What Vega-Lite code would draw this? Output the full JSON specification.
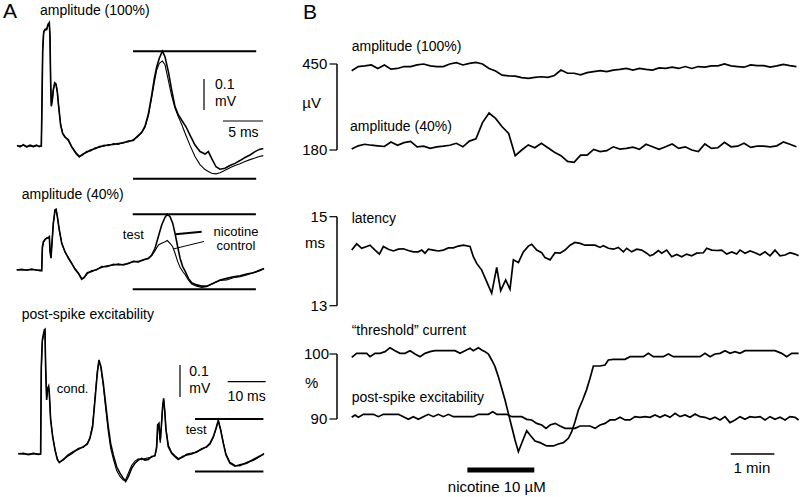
{
"$schema":"https://vega.github.io/schema/vega-lite/v6.json",
"width":800,"height":497,"autosize":"none","padding":0,"background":"white",
"config":{"view":{"stroke":null},"text":{"font":"Liberation Sans","fontSize":14,"color":"black"},"line":{"color":"black"},"rule":{"color":"black"}},
"datasets":{
"a1":[{"t":0,"n":2,"c":0},{"t":0.375,"n":-3,"c":1},{"t":0.79,"n":4,"c":2},{"t":1.21,"n":-2,"c":-4},{"t":1.625,"n":3,"c":0},{"t":2.04,"n":-1,"c":-3},{"t":2.46,"n":3,"c":1},{"t":2.79,"n":-2,"c":0},{"t":3.04,"n":0,"c":0},{"t":3.125,"n":140,"c":150},{"t":3.21,"n":305,"c":312},{"t":3.33,"n":365,"c":370},{"t":3.5,"n":376,"c":374},{"t":3.71,"n":378,"c":374},{"t":3.875,"n":392,"c":388},{"t":4.04,"n":398,"c":396},{"t":4.125,"n":350,"c":355},{"t":4.21,"n":200,"c":205},{"t":4.29,"n":128,"c":132},{"t":4.42,"n":150,"c":148},{"t":4.54,"n":182,"c":180},{"t":4.71,"n":204,"c":200},{"t":4.875,"n":200,"c":198},{"t":5.04,"n":174,"c":176},{"t":5.21,"n":126,"c":128},{"t":5.46,"n":66,"c":70},{"t":5.71,"n":40,"c":42},{"t":6.0,"n":28,"c":31},{"t":6.42,"n":20,"c":17},{"t":6.83,"n":-3,"c":-1},{"t":7.375,"n":-24,"c":-21},{"t":7.79,"n":-35,"c":-33},{"t":8.21,"n":-26,"c":-29},{"t":8.71,"n":-20,"c":-17},{"t":9.21,"n":-13,"c":-16},{"t":9.75,"n":-9,"c":-6},{"t":10.29,"n":-2,"c":-5},{"t":10.875,"n":0,"c":3},{"t":11.42,"n":4,"c":1},{"t":12.04,"n":5,"c":8},{"t":12.67,"n":8,"c":5},{"t":13.29,"n":10,"c":12},{"t":13.92,"n":16,"c":13},{"t":14.54,"n":18,"c":21},{"t":15.04,"n":31,"c":29},{"t":15.58,"n":44,"c":42},{"t":16.0,"n":64,"c":60},{"t":16.42,"n":103,"c":97},{"t":16.83,"n":163,"c":154},{"t":17.17,"n":218,"c":206},{"t":17.46,"n":255,"c":245},{"t":17.79,"n":283,"c":267},{"t":18.17,"n":306,"c":274},{"t":18.5,"n":288,"c":262},{"t":18.92,"n":240,"c":212},{"t":19.33,"n":181,"c":162},{"t":19.75,"n":127,"c":122},{"t":20.17,"n":100,"c":94},{"t":20.58,"n":84,"c":70},{"t":21.125,"n":62,"c":34},{"t":21.625,"n":35,"c":2},{"t":22.25,"n":3,"c":-34},{"t":22.875,"n":-18,"c":-60},{"t":23.5,"n":-26,"c":-76},{"t":23.92,"n":-18,"c":-82},{"t":24.33,"n":-40,"c":-88},{"t":24.875,"n":-67,"c":-90},{"t":25.375,"n":-75,"c":-86},{"t":26.0,"n":-72,"c":-78},{"t":26.625,"n":-63,"c":-70},{"t":27.25,"n":-56,"c":-63},{"t":27.875,"n":-47,"c":-57},{"t":28.5,"n":-37,"c":-50},{"t":29.125,"n":-29,"c":-44},{"t":29.75,"n":-18,"c":-39},{"t":30.29,"n":-11,"c":-34},{"t":30.79,"n":-8,"c":-31}],
"a2":[{"t":0,"n":0,"c":1},{"t":0.625,"n":2,"c":0},{"t":1.25,"n":-1,"c":1},{"t":1.875,"n":2,"c":3},{"t":2.5,"n":0,"c":-1},{"t":2.92,"n":-2,"c":0},{"t":3.125,"n":-2,"c":-2},{"t":3.21,"n":75,"c":70},{"t":3.33,"n":91,"c":88},{"t":3.54,"n":99,"c":97},{"t":3.75,"n":102,"c":104},{"t":3.96,"n":105,"c":103},{"t":4.08,"n":108,"c":106},{"t":4.17,"n":59,"c":62},{"t":4.29,"n":38,"c":40},{"t":4.375,"n":75,"c":72},{"t":4.58,"n":151,"c":150},{"t":4.79,"n":194,"c":192},{"t":4.92,"n":196,"c":195},{"t":5.08,"n":172,"c":174},{"t":5.33,"n":129,"c":127},{"t":5.625,"n":86,"c":89},{"t":6.04,"n":59,"c":57},{"t":6.46,"n":38,"c":41},{"t":6.875,"n":22,"c":20},{"t":7.29,"n":2,"c":5},{"t":7.71,"n":-11,"c":-9},{"t":8.125,"n":-30,"c":-27},{"t":8.42,"n":-24,"c":-26},{"t":8.83,"n":-9,"c":-12},{"t":9.375,"n":-5,"c":-2},{"t":10.0,"n":2,"c":0},{"t":10.625,"n":9,"c":12},{"t":11.25,"n":13,"c":10},{"t":12.08,"n":16,"c":19},{"t":12.71,"n":19,"c":16},{"t":13.33,"n":16,"c":18},{"t":13.96,"n":22,"c":20},{"t":14.58,"n":27,"c":29},{"t":15.21,"n":27,"c":25},{"t":15.83,"n":32,"c":34},{"t":16.46,"n":38,"c":36},{"t":16.875,"n":48,"c":46},{"t":17.29,"n":70,"c":62},{"t":17.71,"n":108,"c":81},{"t":18.125,"n":145,"c":86},{"t":18.54,"n":170,"c":91},{"t":18.83,"n":180,"c":95},{"t":19.17,"n":172,"c":86},{"t":19.5,"n":151,"c":75},{"t":19.79,"n":118,"c":54},{"t":20.125,"n":75,"c":27},{"t":20.42,"n":38,"c":9},{"t":20.75,"n":11,"c":-5},{"t":21.08,"n":-5,"c":-16},{"t":21.46,"n":-27,"c":-32},{"t":21.875,"n":-41,"c":-45},{"t":22.5,"n":-48,"c":-52},{"t":23.125,"n":-52,"c":-56},{"t":23.75,"n":-52,"c":-54},{"t":24.58,"n":-43,"c":-43},{"t":25.42,"n":-32,"c":-34},{"t":26.25,"n":-27,"c":-32},{"t":27.08,"n":-22,"c":-25},{"t":27.92,"n":-19,"c":-22},{"t":28.75,"n":-13,"c":-16},{"t":29.58,"n":-9,"c":-9},{"t":30.42,"n":0,"c":-2},{"t":30.92,"n":5,"c":4}],
"a3":[{"t":0,"n":0,"c":2},{"t":1.32,"n":2,"c":0},{"t":2.63,"n":-2,"c":-1},{"t":3.95,"n":1,"c":3},{"t":5.26,"n":-1,"c":0},{"t":5.88,"n":0,"c":0},{"t":6.05,"n":273,"c":260},{"t":6.32,"n":356,"c":350},{"t":6.58,"n":372,"c":368},{"t":6.84,"n":388,"c":380},{"t":7.02,"n":390,"c":384},{"t":7.19,"n":273,"c":280},{"t":7.46,"n":169,"c":175},{"t":7.72,"n":205,"c":200},{"t":7.98,"n":212,"c":210},{"t":8.16,"n":190,"c":193},{"t":8.51,"n":106,"c":110},{"t":9.04,"n":54,"c":57},{"t":9.65,"n":13,"c":15},{"t":10.26,"n":-17,"c":-14},{"t":10.79,"n":-27,"c":-25},{"t":11.84,"n":-17,"c":-19},{"t":13.16,"n":-3,"c":-6},{"t":14.47,"n":7,"c":4},{"t":15.79,"n":15,"c":18},{"t":17.1,"n":23,"c":20},{"t":18.16,"n":31,"c":34},{"t":18.86,"n":49,"c":52},{"t":19.56,"n":85,"c":92},{"t":20.18,"n":169,"c":175},{"t":20.79,"n":252,"c":258},{"t":21.23,"n":294,"c":290},{"t":21.75,"n":273,"c":268},{"t":22.37,"n":221,"c":212},{"t":23.07,"n":148,"c":135},{"t":23.68,"n":85,"c":70},{"t":24.3,"n":33,"c":18},{"t":25.0,"n":-3,"c":-15},{"t":25.88,"n":-40,"c":-52},{"t":26.75,"n":-60,"c":-70},{"t":27.63,"n":-76,"c":-82},{"t":28.25,"n":-86,"c":-80},{"t":28.95,"n":-71,"c":-60},{"t":29.82,"n":-45,"c":-36},{"t":30.7,"n":-29,"c":-22},{"t":31.58,"n":-19,"c":-15},{"t":32.46,"n":-14,"c":-18},{"t":33.33,"n":-19,"c":-14},{"t":34.21,"n":-17,"c":-12},{"t":35.09,"n":-8,"c":-10},{"t":35.96,"n":-6,"c":-4},{"t":36.4,"n":23,"c":15},{"t":36.67,"n":91,"c":78},{"t":37.02,"n":96,"c":85},{"t":37.19,"n":65,"c":50},{"t":37.37,"n":44,"c":35},{"t":37.63,"n":85,"c":80},{"t":37.98,"n":148,"c":145},{"t":38.25,"n":174,"c":170},{"t":38.51,"n":138,"c":140},{"t":38.86,"n":75,"c":80},{"t":39.47,"n":23,"c":28},{"t":40.35,"n":2,"c":5},{"t":41.23,"n":-8,"c":-5},{"t":42.1,"n":-17,"c":-14},{"t":43.25,"n":-8,"c":-11},{"t":44.3,"n":-3,"c":0},{"t":45.61,"n":0,"c":3},{"t":46.93,"n":7,"c":5},{"t":48.25,"n":15,"c":17},{"t":49.56,"n":23,"c":21},{"t":50.44,"n":33,"c":31},{"t":51.32,"n":54,"c":52},{"t":52.02,"n":80,"c":78},{"t":52.63,"n":105,"c":103},{"t":53.25,"n":75,"c":77},{"t":53.95,"n":33,"c":36},{"t":54.65,"n":-3,"c":0},{"t":55.7,"n":-29,"c":-26},{"t":57.02,"n":-38,"c":-35},{"t":58.33,"n":-34,"c":-37},{"t":60.09,"n":-29,"c":-26},{"t":61.84,"n":-17,"c":-20},{"t":63.6,"n":-6,"c":-8},{"t":64.65,"n":0,"c":2}],
"bamp":[{"t":0,"a":429,"b":183},{"t":0.15,"a":442,"b":193},{"t":0.3,"a":444,"b":198},{"t":0.45,"a":447,"b":195},{"t":0.6,"a":436,"b":193},{"t":0.75,"a":447,"b":191},{"t":0.9,"a":434,"b":205},{"t":1.05,"a":436,"b":195},{"t":1.2,"a":442,"b":203},{"t":1.35,"a":442,"b":207},{"t":1.5,"a":447,"b":190},{"t":1.65,"a":450,"b":192},{"t":1.8,"a":444,"b":185},{"t":1.95,"a":442,"b":190},{"t":2.1,"a":442,"b":192},{"t":2.25,"a":450,"b":195},{"t":2.4,"a":454,"b":201},{"t":2.55,"a":447,"b":190},{"t":2.7,"a":452,"b":208},{"t":2.85,"a":455,"b":215},{"t":3.0,"a":450,"b":266},{"t":3.15,"a":436,"b":296},{"t":3.3,"a":428,"b":279},{"t":3.45,"a":415,"b":253},{"t":3.6,"a":413,"b":232},{"t":3.75,"a":412,"b":162},{"t":3.9,"a":407,"b":180},{"t":4.05,"a":405,"b":196},{"t":4.2,"a":408,"b":187},{"t":4.35,"a":410,"b":201},{"t":4.5,"a":408,"b":187},{"t":4.65,"a":414,"b":173},{"t":4.8,"a":431,"b":162},{"t":4.95,"a":421,"b":144},{"t":5.1,"a":421,"b":141},{"t":5.25,"a":416,"b":164},{"t":5.4,"a":423,"b":164},{"t":5.55,"a":426,"b":182},{"t":5.7,"a":429,"b":175},{"t":5.85,"a":426,"b":178},{"t":6.0,"a":431,"b":190},{"t":6.15,"a":433,"b":183},{"t":6.3,"a":436,"b":185},{"t":6.45,"a":431,"b":189},{"t":6.6,"a":436,"b":182},{"t":6.75,"a":433,"b":198},{"t":6.9,"a":431,"b":190},{"t":7.05,"a":438,"b":182},{"t":7.2,"a":436,"b":190},{"t":7.35,"a":440,"b":199},{"t":7.5,"a":436,"b":185},{"t":7.65,"a":442,"b":190},{"t":7.8,"a":436,"b":180},{"t":7.95,"a":442,"b":175},{"t":8.1,"a":440,"b":199},{"t":8.25,"a":444,"b":185},{"t":8.4,"a":444,"b":187},{"t":8.55,"a":450,"b":204},{"t":8.7,"a":444,"b":190},{"t":8.85,"a":442,"b":192},{"t":9.0,"a":440,"b":201},{"t":9.15,"a":447,"b":188},{"t":9.3,"a":445,"b":192},{"t":9.45,"a":445,"b":192},{"t":9.6,"a":440,"b":190},{"t":9.75,"a":444,"b":193},{"t":9.9,"a":449,"b":205},{"t":10.05,"a":445,"b":198},{"t":10.2,"a":442,"b":190}],
"blat":[{"t":0,"l":14.25},{"t":0.115,"l":14.39},{"t":0.229,"l":14.29},{"t":0.344,"l":14.33},{"t":0.42,"l":14.36},{"t":0.535,"l":14.25},{"t":0.635,"l":14.16},{"t":0.726,"l":14.33},{"t":0.841,"l":14.27},{"t":0.956,"l":14.23},{"t":1.07,"l":14.27},{"t":1.185,"l":14.28},{"t":1.3,"l":14.24},{"t":1.414,"l":14.21},{"t":1.529,"l":14.21},{"t":1.606,"l":14.25},{"t":1.682,"l":14.18},{"t":1.758,"l":14.27},{"t":1.873,"l":14.25},{"t":1.988,"l":14.23},{"t":2.102,"l":14.25},{"t":2.217,"l":14.3},{"t":2.332,"l":14.3},{"t":2.446,"l":14.34},{"t":2.561,"l":14.36},{"t":2.714,"l":14.33},{"t":2.79,"l":14.1},{"t":2.867,"l":13.95},{"t":2.982,"l":13.8},{"t":3.096,"l":13.54},{"t":3.211,"l":13.28},{"t":3.326,"l":13.86},{"t":3.417,"l":13.34},{"t":3.532,"l":13.58},{"t":3.631,"l":13.37},{"t":3.708,"l":14.03},{"t":3.823,"l":13.97},{"t":3.937,"l":14.21},{"t":4.052,"l":14.34},{"t":4.128,"l":14.38},{"t":4.243,"l":14.25},{"t":4.358,"l":14.19},{"t":4.434,"l":14.08},{"t":4.549,"l":14.03},{"t":4.664,"l":14.19},{"t":4.778,"l":14.18},{"t":4.893,"l":14.25},{"t":5.008,"l":14.36},{"t":5.122,"l":14.42},{"t":5.237,"l":14.4},{"t":5.352,"l":14.36},{"t":5.466,"l":14.36},{"t":5.581,"l":14.36},{"t":5.696,"l":14.31},{"t":5.772,"l":14.35},{"t":5.887,"l":14.29},{"t":6.002,"l":14.27},{"t":6.116,"l":14.31},{"t":6.231,"l":14.21},{"t":6.307,"l":14.29},{"t":6.422,"l":14.21},{"t":6.537,"l":14.27},{"t":6.651,"l":14.25},{"t":6.766,"l":14.18},{"t":6.843,"l":14.12},{"t":6.919,"l":14.15},{"t":7.034,"l":14.24},{"t":7.11,"l":14.18},{"t":7.225,"l":14.25},{"t":7.339,"l":14.1},{"t":7.454,"l":14.15},{"t":7.569,"l":14.1},{"t":7.683,"l":14.16},{"t":7.798,"l":14.12},{"t":7.913,"l":14.18},{"t":8.066,"l":14.19},{"t":8.142,"l":14.29},{"t":8.257,"l":14.25},{"t":8.372,"l":14.24},{"t":8.486,"l":14.25},{"t":8.601,"l":14.16},{"t":8.716,"l":14.21},{"t":8.83,"l":14.16},{"t":8.907,"l":14.25},{"t":9.021,"l":14.18},{"t":9.136,"l":14.23},{"t":9.251,"l":14.19},{"t":9.365,"l":14.14},{"t":9.48,"l":14.21},{"t":9.595,"l":14.12},{"t":9.709,"l":14.25},{"t":9.824,"l":14.12},{"t":9.939,"l":14.14},{"t":10.054,"l":14.19},{"t":10.168,"l":14.16},{"t":10.25,"l":14.12}],
"bthr":[{"t":0,"h":99.49},{"t":0.115,"h":100.1},{"t":0.229,"h":100.1},{"t":0.344,"h":100.1},{"t":0.42,"h":99.59},{"t":0.535,"h":100.1},{"t":0.65,"h":100.1},{"t":0.765,"h":100.36},{"t":0.879,"h":100.97},{"t":0.994,"h":100.51},{"t":1.108,"h":100.1},{"t":1.223,"h":100.1},{"t":1.338,"h":100.51},{"t":1.453,"h":100},{"t":1.567,"h":99.59},{"t":1.682,"h":100.1},{"t":1.797,"h":100.36},{"t":1.911,"h":100.51},{"t":2.026,"h":100.51},{"t":2.141,"h":100.51},{"t":2.255,"h":100.51},{"t":2.37,"h":100.51},{"t":2.485,"h":100.1},{"t":2.599,"h":100.51},{"t":2.714,"h":100.87},{"t":2.79,"h":100.51},{"t":2.905,"h":100.97},{"t":2.982,"h":100.62},{"t":3.058,"h":100.36},{"t":3.135,"h":100},{"t":3.211,"h":99.08},{"t":3.287,"h":98.05},{"t":3.364,"h":96.51},{"t":3.44,"h":94.72},{"t":3.517,"h":92.92},{"t":3.593,"h":90.87},{"t":3.67,"h":88.82},{"t":3.746,"h":86.77},{"t":3.823,"h":84.97},{"t":3.899,"h":86.26},{"t":4.014,"h":88.21},{"t":4.09,"h":87.54},{"t":4.205,"h":86.62},{"t":4.32,"h":86.36},{"t":4.472,"h":85.85},{"t":4.625,"h":85.85},{"t":4.74,"h":86.15},{"t":4.855,"h":86.36},{"t":4.969,"h":87.03},{"t":5.046,"h":88.05},{"t":5.122,"h":89.59},{"t":5.199,"h":91.38},{"t":5.298,"h":92.92},{"t":5.39,"h":94.56},{"t":5.466,"h":96.26},{"t":5.543,"h":98.15},{"t":5.696,"h":98.15},{"t":5.81,"h":98.31},{"t":5.887,"h":99.08},{"t":6.002,"h":99.18},{"t":6.154,"h":99.18},{"t":6.269,"h":99.18},{"t":6.384,"h":99.59},{"t":6.537,"h":99.59},{"t":6.69,"h":99.59},{"t":6.804,"h":100.1},{"t":6.919,"h":99.59},{"t":7.034,"h":99.59},{"t":7.148,"h":99.59},{"t":7.263,"h":100},{"t":7.378,"h":99.59},{"t":7.531,"h":99.59},{"t":7.683,"h":99.59},{"t":7.836,"h":99.59},{"t":7.989,"h":99.59},{"t":8.104,"h":100.1},{"t":8.219,"h":99.59},{"t":8.333,"h":100},{"t":8.448,"h":100.1},{"t":8.563,"h":100.51},{"t":8.677,"h":100.1},{"t":8.792,"h":100.36},{"t":8.907,"h":100.1},{"t":9.021,"h":100.51},{"t":9.136,"h":100.51},{"t":9.289,"h":100.51},{"t":9.442,"h":100.51},{"t":9.595,"h":100.51},{"t":9.709,"h":100.51},{"t":9.862,"h":100.1},{"t":9.977,"h":99.59},{"t":10.092,"h":100.1},{"t":10.25,"h":100.1}],
"bpse":[{"t":0,"p":90.26},{"t":0.076,"p":90.62},{"t":0.153,"p":90.26},{"t":0.268,"p":90.72},{"t":0.382,"p":90.72},{"t":0.497,"p":90.72},{"t":0.612,"p":90.36},{"t":0.726,"p":90.72},{"t":0.841,"p":90.72},{"t":0.956,"p":90.72},{"t":1.07,"p":90.72},{"t":1.185,"p":90.36},{"t":1.3,"p":89.95},{"t":1.414,"p":90.36},{"t":1.529,"p":89.95},{"t":1.644,"p":90.36},{"t":1.758,"p":90.72},{"t":1.873,"p":90.36},{"t":1.988,"p":90.72},{"t":2.102,"p":90.36},{"t":2.217,"p":90.72},{"t":2.332,"p":90.36},{"t":2.446,"p":90.36},{"t":2.561,"p":90.36},{"t":2.676,"p":90.36},{"t":2.79,"p":90.36},{"t":2.905,"p":90.72},{"t":3.02,"p":90.72},{"t":3.135,"p":90.72},{"t":3.234,"p":91.13},{"t":3.326,"p":90.72},{"t":3.44,"p":90.72},{"t":3.555,"p":90.72},{"t":3.67,"p":90.36},{"t":3.784,"p":90.36},{"t":3.899,"p":90.36},{"t":4.014,"p":89.95},{"t":4.128,"p":89.85},{"t":4.243,"p":89.33},{"t":4.358,"p":89.08},{"t":4.457,"p":88.56},{"t":4.549,"p":89.08},{"t":4.664,"p":89.33},{"t":4.778,"p":88.92},{"t":4.893,"p":88.56},{"t":5.008,"p":88.56},{"t":5.122,"p":88.56},{"t":5.237,"p":88.92},{"t":5.352,"p":88.92},{"t":5.466,"p":88.92},{"t":5.581,"p":88.56},{"t":5.696,"p":89.08},{"t":5.81,"p":89.33},{"t":5.925,"p":89.85},{"t":6.04,"p":89.85},{"t":6.154,"p":90.26},{"t":6.269,"p":89.85},{"t":6.384,"p":89.85},{"t":6.498,"p":90.36},{"t":6.613,"p":90.26},{"t":6.728,"p":90.36},{"t":6.843,"p":90.26},{"t":6.957,"p":90.62},{"t":7.072,"p":90.26},{"t":7.187,"p":90.62},{"t":7.301,"p":90.26},{"t":7.416,"p":90.87},{"t":7.531,"p":90.36},{"t":7.645,"p":90.62},{"t":7.76,"p":90.26},{"t":7.875,"p":90.77},{"t":7.989,"p":90.36},{"t":8.104,"p":90.26},{"t":8.219,"p":89.95},{"t":8.333,"p":90.26},{"t":8.448,"p":89.85},{"t":8.563,"p":90.36},{"t":8.677,"p":89.44},{"t":8.792,"p":89.85},{"t":8.907,"p":90.36},{"t":9.021,"p":89.95},{"t":9.136,"p":90.36},{"t":9.251,"p":90.26},{"t":9.365,"p":90.36},{"t":9.48,"p":89.85},{"t":9.595,"p":90.36},{"t":9.709,"p":89.95},{"t":9.824,"p":90.26},{"t":9.939,"p":89.85},{"t":10.054,"p":90.36},{"t":10.168,"p":90.26},{"t":10.25,"p":89.85}]
},
"layer":[
{"layer":[
{"data":{"name":"a1"},"mark":{"type":"line","strokeWidth":1.1},"encoding":{"x":{"field":"t","type":"quantitative","scale":{"domain":[-2.125,97.875],"nice":false,"zero":false},"axis":null},"y":{"field":"c","type":"quantitative","scale":{"domain":[-1132.26,470.97],"nice":false,"zero":false},"axis":null}}},
{"data":{"name":"a1"},"mark":{"type":"line","strokeWidth":1.6},"encoding":{"x":{"field":"t","type":"quantitative","scale":{"domain":[-2.125,97.875],"nice":false,"zero":false},"axis":null},"y":{"field":"n","type":"quantitative","scale":{"domain":[-1132.26,470.97],"nice":false,"zero":false},"axis":null}}},
{"data":{"values":[{}]},"mark":{"type":"rule","strokeWidth":2},"encoding":{"x":{"datum":14.5,"type":"quantitative","scale":{"domain":[-2.125,97.875],"nice":false,"zero":false},"axis":null},"x2":{"datum":29.9},"y":{"datum":306,"type":"quantitative","scale":{"domain":[-1132.26,470.97],"nice":false,"zero":false},"axis":null}}},
{"data":{"values":[{}]},"mark":{"type":"rule","strokeWidth":2},"encoding":{"x":{"datum":14.5,"type":"quantitative","scale":{"domain":[-2.125,97.875],"nice":false,"zero":false},"axis":null},"x2":{"datum":29.9},"y":{"datum":-106,"type":"quantitative","scale":{"domain":[-1132.26,470.97],"nice":false,"zero":false},"axis":null}}},
{"data":{"values":[{}]},"mark":{"type":"rule","strokeWidth":1.2},"encoding":{"x":{"datum":23.375,"type":"quantitative","scale":{"domain":[-2.125,97.875],"nice":false,"zero":false},"axis":null},"y":{"datum":116,"type":"quantitative","scale":{"domain":[-1132.26,470.97],"nice":false,"zero":false},"axis":null},"y2":{"datum":216}}},
{"data":{"values":[{}]},"mark":{"type":"rule","strokeWidth":1.2},"encoding":{"x":{"datum":25.75,"type":"quantitative","scale":{"domain":[-2.125,97.875],"nice":false,"zero":false},"axis":null},"x2":{"datum":30.75},"y":{"datum":80.6,"type":"quantitative","scale":{"domain":[-1132.26,470.97],"nice":false,"zero":false},"axis":null}}},
{"data":{"values":[{}]},"mark":{"type":"text","align":"left","baseline":"middle","fontSize":21,"text":"A"},"encoding":{"x":{"datum":-1.75,"type":"quantitative","scale":{"domain":[-2.125,97.875],"nice":false,"zero":false},"axis":null},"y":{"datum":432,"type":"quantitative","scale":{"domain":[-1132.26,470.97],"nice":false,"zero":false},"axis":null}}},
{"data":{"values":[{}]},"mark":{"type":"text","align":"left","baseline":"middle","text":"amplitude (100%)"},"encoding":{"x":{"datum":2.875,"type":"quantitative","scale":{"domain":[-2.125,97.875],"nice":false,"zero":false},"axis":null},"y":{"datum":435.5,"type":"quantitative","scale":{"domain":[-1132.26,470.97],"nice":false,"zero":false},"axis":null}}},
{"data":{"values":[{}]},"mark":{"type":"text","align":"left","baseline":"middle","text":"0.1"},"encoding":{"x":{"datum":24.75,"type":"quantitative","scale":{"domain":[-2.125,97.875],"nice":false,"zero":false},"axis":null},"y":{"datum":196.8,"type":"quantitative","scale":{"domain":[-1132.26,470.97],"nice":false,"zero":false},"axis":null}}},
{"data":{"values":[{}]},"mark":{"type":"text","align":"left","baseline":"middle","text":"mV"},"encoding":{"x":{"datum":24.75,"type":"quantitative","scale":{"domain":[-2.125,97.875],"nice":false,"zero":false},"axis":null},"y":{"datum":142.9,"type":"quantitative","scale":{"domain":[-1132.26,470.97],"nice":false,"zero":false},"axis":null}}},
{"data":{"values":[{}]},"mark":{"type":"text","align":"center","baseline":"middle","text":"5 ms"},"encoding":{"x":{"datum":28.3,"type":"quantitative","scale":{"domain":[-2.125,97.875],"nice":false,"zero":false},"axis":null},"y":{"datum":42,"type":"quantitative","scale":{"domain":[-1132.26,470.97],"nice":false,"zero":false},"axis":null}}}
]},
{"layer":[
{"data":{"name":"a2"},"mark":{"type":"line","strokeWidth":1.1},"encoding":{"x":{"field":"t","type":"quantitative","scale":{"domain":[-2.0875,97.9125],"nice":false,"zero":false},"axis":null},"y":{"field":"c","type":"quantitative","scale":{"domain":[-732.26,870.97],"nice":false,"zero":false},"axis":null}}},
{"data":{"name":"a2"},"mark":{"type":"line","strokeWidth":1.6},"encoding":{"x":{"field":"t","type":"quantitative","scale":{"domain":[-2.0875,97.9125],"nice":false,"zero":false},"axis":null},"y":{"field":"n","type":"quantitative","scale":{"domain":[-732.26,870.97],"nice":false,"zero":false},"axis":null}}},
{"data":{"values":[{}]},"mark":{"type":"rule","strokeWidth":2},"encoding":{"x":{"datum":14.5,"type":"quantitative","scale":{"domain":[-2.0875,97.9125],"nice":false,"zero":false},"axis":null},"x2":{"datum":29.9},"y":{"datum":180,"type":"quantitative","scale":{"domain":[-732.26,870.97],"nice":false,"zero":false},"axis":null}}},
{"data":{"values":[{}]},"mark":{"type":"rule","strokeWidth":2},"encoding":{"x":{"datum":14.5,"type":"quantitative","scale":{"domain":[-2.0875,97.9125],"nice":false,"zero":false},"axis":null},"x2":{"datum":29.9},"y":{"datum":-62,"type":"quantitative","scale":{"domain":[-732.26,870.97],"nice":false,"zero":false},"axis":null}}},
{"data":{"values":[{}]},"mark":{"type":"rule","strokeWidth":2},"encoding":{"x":{"datum":19.85,"type":"quantitative","scale":{"domain":[-2.0875,97.9125],"nice":false,"zero":false},"axis":null},"x2":{"datum":23.12},"y":{"datum":115,"type":"quantitative","scale":{"domain":[-732.26,870.97],"nice":false,"zero":false},"axis":null},"y2":{"datum":123}}},
{"data":{"values":[{}]},"mark":{"type":"rule","strokeWidth":1},"encoding":{"x":{"datum":19.6,"type":"quantitative","scale":{"domain":[-2.0875,97.9125],"nice":false,"zero":false},"axis":null},"x2":{"datum":23.4},"y":{"datum":68,"type":"quantitative","scale":{"domain":[-732.26,870.97],"nice":false,"zero":false},"axis":null},"y2":{"datum":92}}},
{"data":{"values":[{}]},"mark":{"type":"text","align":"left","baseline":"middle","text":"amplitude (40%)"},"encoding":{"x":{"datum":0.625,"type":"quantitative","scale":{"domain":[-2.0875,97.9125],"nice":false,"zero":false},"axis":null},"y":{"datum":242,"type":"quantitative","scale":{"domain":[-732.26,870.97],"nice":false,"zero":false},"axis":null}}},
{"data":{"values":[{}]},"mark":{"type":"text","align":"center","baseline":"middle","fontSize":13,"text":"test"},"encoding":{"x":{"datum":14.575,"type":"quantitative","scale":{"domain":[-2.0875,97.9125],"nice":false,"zero":false},"axis":null},"y":{"datum":113,"type":"quantitative","scale":{"domain":[-732.26,870.97],"nice":false,"zero":false},"axis":null}}},
{"data":{"values":[{}]},"mark":{"type":"text","align":"center","baseline":"middle","fontSize":13,"text":"nicotine"},"encoding":{"x":{"datum":27.41,"type":"quantitative","scale":{"domain":[-2.0875,97.9125],"nice":false,"zero":false},"axis":null},"y":{"datum":123.5,"type":"quantitative","scale":{"domain":[-732.26,870.97],"nice":false,"zero":false},"axis":null}}},
{"data":{"values":[{}]},"mark":{"type":"text","align":"center","baseline":"middle","fontSize":13,"text":"control"},"encoding":{"x":{"datum":27.41,"type":"quantitative","scale":{"domain":[-2.0875,97.9125],"nice":false,"zero":false},"axis":null},"y":{"datum":77.4,"type":"quantitative","scale":{"domain":[-732.26,870.97],"nice":false,"zero":false},"axis":null}}}
]},
{"layer":[
{"data":{"name":"a3"},"mark":{"type":"line","strokeWidth":1.1},"encoding":{"x":{"field":"t","type":"quantitative","scale":{"domain":[-4.8158,205.71],"nice":false,"zero":false},"axis":null},"y":{"field":"c","type":"quantitative","scale":{"domain":[-134.375,1418.75],"nice":false,"zero":false},"axis":null}}},
{"data":{"name":"a3"},"mark":{"type":"line","strokeWidth":1.6},"encoding":{"x":{"field":"t","type":"quantitative","scale":{"domain":[-4.8158,205.71],"nice":false,"zero":false},"axis":null},"y":{"field":"n","type":"quantitative","scale":{"domain":[-134.375,1418.75],"nice":false,"zero":false},"axis":null}}},
{"data":{"values":[{}]},"mark":{"type":"rule","strokeWidth":2},"encoding":{"x":{"datum":46.5,"type":"quantitative","scale":{"domain":[-4.8158,205.71],"nice":false,"zero":false},"axis":null},"x2":{"datum":64.5},"y":{"datum":109,"type":"quantitative","scale":{"domain":[-134.375,1418.75],"nice":false,"zero":false},"axis":null}}},
{"data":{"values":[{}]},"mark":{"type":"rule","strokeWidth":2},"encoding":{"x":{"datum":46.5,"type":"quantitative","scale":{"domain":[-4.8158,205.71],"nice":false,"zero":false},"axis":null},"x2":{"datum":64.5},"y":{"datum":-55,"type":"quantitative","scale":{"domain":[-134.375,1418.75],"nice":false,"zero":false},"axis":null}}},
{"data":{"values":[{}]},"mark":{"type":"rule","strokeWidth":1.2},"encoding":{"x":{"datum":42.55,"type":"quantitative","scale":{"domain":[-4.8158,205.71],"nice":false,"zero":false},"axis":null},"y":{"datum":178,"type":"quantitative","scale":{"domain":[-134.375,1418.75],"nice":false,"zero":false},"axis":null},"y2":{"datum":278}}},
{"data":{"values":[{}]},"mark":{"type":"rule","strokeWidth":1.2},"encoding":{"x":{"datum":55.1,"type":"quantitative","scale":{"domain":[-4.8158,205.71],"nice":false,"zero":false},"axis":null},"x2":{"datum":65.1},"y":{"datum":226,"type":"quantitative","scale":{"domain":[-134.375,1418.75],"nice":false,"zero":false},"axis":null}}},
{"data":{"values":[{}]},"mark":{"type":"text","align":"left","baseline":"middle","text":"post-spike excitability"},"encoding":{"x":{"datum":0.89,"type":"quantitative","scale":{"domain":[-4.8158,205.71],"nice":false,"zero":false},"axis":null},"y":{"datum":434,"type":"quantitative","scale":{"domain":[-134.375,1418.75],"nice":false,"zero":false},"axis":null}}},
{"data":{"values":[{}]},"mark":{"type":"text","align":"left","baseline":"middle","fontSize":13,"text":"cond."},"encoding":{"x":{"datum":10.1,"type":"quantitative","scale":{"domain":[-4.8158,205.71],"nice":false,"zero":false},"axis":null},"y":{"datum":202,"type":"quantitative","scale":{"domain":[-134.375,1418.75],"nice":false,"zero":false},"axis":null}}},
{"data":{"values":[{}]},"mark":{"type":"text","align":"left","baseline":"middle","fontSize":13,"text":"test"},"encoding":{"x":{"datum":44.05,"type":"quantitative","scale":{"domain":[-4.8158,205.71],"nice":false,"zero":false},"axis":null},"y":{"datum":75,"type":"quantitative","scale":{"domain":[-134.375,1418.75],"nice":false,"zero":false},"axis":null}}},
{"data":{"values":[{}]},"mark":{"type":"text","align":"left","baseline":"middle","text":"0.1"},"encoding":{"x":{"datum":45.0,"type":"quantitative","scale":{"domain":[-4.8158,205.71],"nice":false,"zero":false},"axis":null},"y":{"datum":257,"type":"quantitative","scale":{"domain":[-134.375,1418.75],"nice":false,"zero":false},"axis":null}}},
{"data":{"values":[{}]},"mark":{"type":"text","align":"left","baseline":"middle","text":"mV"},"encoding":{"x":{"datum":45.0,"type":"quantitative","scale":{"domain":[-4.8158,205.71],"nice":false,"zero":false},"axis":null},"y":{"datum":202,"type":"quantitative","scale":{"domain":[-134.375,1418.75],"nice":false,"zero":false},"axis":null}}},
{"data":{"values":[{}]},"mark":{"type":"text","align":"center","baseline":"middle","text":"10 ms"},"encoding":{"x":{"datum":60.1,"type":"quantitative","scale":{"domain":[-4.8158,205.71],"nice":false,"zero":false},"axis":null},"y":{"datum":179,"type":"quantitative","scale":{"domain":[-134.375,1418.75],"nice":false,"zero":false},"axis":null}}}
]},
{"layer":[
{"data":{"name":"bamp"},"mark":{"type":"line","strokeWidth":1.7},"encoding":{"x":{"field":"t","type":"quantitative","scale":{"domain":[-8.0665,10.2821],"nice":false,"zero":false},"axis":null},"y":{"field":"a","type":"quantitative","scale":{"domain":[-909.5,650.94],"nice":false,"zero":false},"axis":null}}},
{"data":{"name":"bamp"},"mark":{"type":"line","strokeWidth":1.7},"encoding":{"x":{"field":"t","type":"quantitative","scale":{"domain":[-8.0665,10.2821],"nice":false,"zero":false},"axis":null},"y":{"field":"b","type":"quantitative","scale":{"domain":[-909.5,650.94],"nice":false,"zero":false},"axis":null}}},
{"data":{"values":[{}]},"mark":{"type":"rule","strokeWidth":1.5},"encoding":{"x":{"datum":-0.337,"type":"quantitative","scale":{"domain":[-8.0665,10.2821],"nice":false,"zero":false},"axis":null},"y":{"datum":180,"type":"quantitative","scale":{"domain":[-909.5,650.94],"nice":false,"zero":false},"axis":null},"y2":{"datum":450}}},
{"data":{"values":[{}]},"mark":{"type":"rule","strokeWidth":1.2},"encoding":{"x":{"datum":-0.51,"type":"quantitative","scale":{"domain":[-8.0665,10.2821],"nice":false,"zero":false},"axis":null},"x2":{"datum":-0.337},"y":{"datum":450,"type":"quantitative","scale":{"domain":[-909.5,650.94],"nice":false,"zero":false},"axis":null}}},
{"data":{"values":[{}]},"mark":{"type":"rule","strokeWidth":1.2},"encoding":{"x":{"datum":-0.51,"type":"quantitative","scale":{"domain":[-8.0665,10.2821],"nice":false,"zero":false},"axis":null},"x2":{"datum":-0.337},"y":{"datum":180,"type":"quantitative","scale":{"domain":[-909.5,650.94],"nice":false,"zero":false},"axis":null}}},
{"data":{"values":[{}]},"mark":{"type":"text","align":"left","baseline":"middle","fontSize":21,"text":"B"},"encoding":{"x":{"datum":-1.117,"type":"quantitative","scale":{"domain":[-8.0665,10.2821],"nice":false,"zero":false},"axis":null},"y":{"datum":608.6,"type":"quantitative","scale":{"domain":[-909.5,650.94],"nice":false,"zero":false},"axis":null}}},
{"data":{"values":[{}]},"mark":{"type":"text","align":"left","baseline":"middle","text":"amplitude (100%)"},"encoding":{"x":{"datum":0,"type":"quantitative","scale":{"domain":[-8.0665,10.2821],"nice":false,"zero":false},"axis":null},"y":{"datum":503.4,"type":"quantitative","scale":{"domain":[-909.5,650.94],"nice":false,"zero":false},"axis":null}}},
{"data":{"values":[{}]},"mark":{"type":"text","align":"left","baseline":"middle","text":"amplitude (40%)"},"encoding":{"x":{"datum":-0.04,"type":"quantitative","scale":{"domain":[-8.0665,10.2821],"nice":false,"zero":false},"axis":null},"y":{"datum":253,"type":"quantitative","scale":{"domain":[-909.5,650.94],"nice":false,"zero":false},"axis":null}}},
{"data":{"values":[{}]},"mark":{"type":"text","align":"right","baseline":"middle","fontSize":15,"text":"450"},"encoding":{"x":{"datum":-0.56,"type":"quantitative","scale":{"domain":[-8.0665,10.2821],"nice":false,"zero":false},"axis":null},"y":{"datum":450,"type":"quantitative","scale":{"domain":[-909.5,650.94],"nice":false,"zero":false},"axis":null}}},
{"data":{"values":[{}]},"mark":{"type":"text","align":"right","baseline":"middle","fontSize":15,"text":"180"},"encoding":{"x":{"datum":-0.56,"type":"quantitative","scale":{"domain":[-8.0665,10.2821],"nice":false,"zero":false},"axis":null},"y":{"datum":180,"type":"quantitative","scale":{"domain":[-909.5,650.94],"nice":false,"zero":false},"axis":null}}},
{"data":{"values":[{}]},"mark":{"type":"text","align":"center","baseline":"middle","fontSize":15,"text":"µV"},"encoding":{"x":{"datum":-0.92,"type":"quantitative","scale":{"domain":[-8.0665,10.2821],"nice":false,"zero":false},"axis":null},"y":{"datum":328,"type":"quantitative","scale":{"domain":[-909.5,650.94],"nice":false,"zero":false},"axis":null}}}
]},
{"layer":[
{"data":{"name":"blat"},"mark":{"type":"line","strokeWidth":1.7},"encoding":{"x":{"field":"t","type":"quantitative","scale":{"domain":[-8.0665,10.2821],"nice":false,"zero":false},"axis":null},"y":{"field":"l","type":"quantitative","scale":{"domain":[8.7011,19.8697],"nice":false,"zero":false},"axis":null}}},
{"data":{"values":[{}]},"mark":{"type":"rule","strokeWidth":1.5},"encoding":{"x":{"datum":-0.337,"type":"quantitative","scale":{"domain":[-8.0665,10.2821],"nice":false,"zero":false},"axis":null},"y":{"datum":13,"type":"quantitative","scale":{"domain":[8.7011,19.8697],"nice":false,"zero":false},"axis":null},"y2":{"datum":15}}},
{"data":{"values":[{}]},"mark":{"type":"rule","strokeWidth":1.2},"encoding":{"x":{"datum":-0.51,"type":"quantitative","scale":{"domain":[-8.0665,10.2821],"nice":false,"zero":false},"axis":null},"x2":{"datum":-0.337},"y":{"datum":15,"type":"quantitative","scale":{"domain":[8.7011,19.8697],"nice":false,"zero":false},"axis":null}}},
{"data":{"values":[{}]},"mark":{"type":"rule","strokeWidth":1.2},"encoding":{"x":{"datum":-0.51,"type":"quantitative","scale":{"domain":[-8.0665,10.2821],"nice":false,"zero":false},"axis":null},"x2":{"datum":-0.337},"y":{"datum":13,"type":"quantitative","scale":{"domain":[8.7011,19.8697],"nice":false,"zero":false},"axis":null}}},
{"data":{"values":[{}]},"mark":{"type":"text","align":"left","baseline":"middle","text":"latency"},"encoding":{"x":{"datum":0,"type":"quantitative","scale":{"domain":[-8.0665,10.2821],"nice":false,"zero":false},"axis":null},"y":{"datum":14.95,"type":"quantitative","scale":{"domain":[8.7011,19.8697],"nice":false,"zero":false},"axis":null}}},
{"data":{"values":[{}]},"mark":{"type":"text","align":"right","baseline":"middle","fontSize":15,"text":"15"},"encoding":{"x":{"datum":-0.56,"type":"quantitative","scale":{"domain":[-8.0665,10.2821],"nice":false,"zero":false},"axis":null},"y":{"datum":15,"type":"quantitative","scale":{"domain":[8.7011,19.8697],"nice":false,"zero":false},"axis":null}}},
{"data":{"values":[{}]},"mark":{"type":"text","align":"right","baseline":"middle","fontSize":15,"text":"13"},"encoding":{"x":{"datum":-0.56,"type":"quantitative","scale":{"domain":[-8.0665,10.2821],"nice":false,"zero":false},"axis":null},"y":{"datum":13,"type":"quantitative","scale":{"domain":[8.7011,19.8697],"nice":false,"zero":false},"axis":null}}},
{"data":{"values":[{}]},"mark":{"type":"text","align":"center","baseline":"middle","fontSize":15,"text":"ms"},"encoding":{"x":{"datum":-0.84,"type":"quantitative","scale":{"domain":[-8.0665,10.2821],"nice":false,"zero":false},"axis":null},"y":{"datum":14.41,"type":"quantitative","scale":{"domain":[8.7011,19.8697],"nice":false,"zero":false},"axis":null}}}
]},
{"layer":[
{"data":{"name":"bthr"},"mark":{"type":"line","strokeWidth":1.7},"encoding":{"x":{"field":"t","type":"quantitative","scale":{"domain":[-8.0665,10.2821],"nice":false,"zero":false},"axis":null},"y":{"field":"h","type":"quantitative","scale":{"domain":[78,154.46],"nice":false,"zero":false},"axis":null}}},
{"data":{"name":"bpse"},"mark":{"type":"line","strokeWidth":1.7},"encoding":{"x":{"field":"t","type":"quantitative","scale":{"domain":[-8.0665,10.2821],"nice":false,"zero":false},"axis":null},"y":{"field":"p","type":"quantitative","scale":{"domain":[78,154.46],"nice":false,"zero":false},"axis":null}}},
{"data":{"values":[{}]},"mark":{"type":"rule","strokeWidth":1.5},"encoding":{"x":{"datum":-0.337,"type":"quantitative","scale":{"domain":[-8.0665,10.2821],"nice":false,"zero":false},"axis":null},"y":{"datum":90,"type":"quantitative","scale":{"domain":[78,154.46],"nice":false,"zero":false},"axis":null},"y2":{"datum":100}}},
{"data":{"values":[{}]},"mark":{"type":"rule","strokeWidth":1.2},"encoding":{"x":{"datum":-0.51,"type":"quantitative","scale":{"domain":[-8.0665,10.2821],"nice":false,"zero":false},"axis":null},"x2":{"datum":-0.337},"y":{"datum":100,"type":"quantitative","scale":{"domain":[78,154.46],"nice":false,"zero":false},"axis":null}}},
{"data":{"values":[{}]},"mark":{"type":"rule","strokeWidth":1.2},"encoding":{"x":{"datum":-0.51,"type":"quantitative","scale":{"domain":[-8.0665,10.2821],"nice":false,"zero":false},"axis":null},"x2":{"datum":-0.337},"y":{"datum":90,"type":"quantitative","scale":{"domain":[78,154.46],"nice":false,"zero":false},"axis":null}}},
{"data":{"values":[{}]},"mark":{"type":"rule","strokeWidth":5},"encoding":{"x":{"datum":2.653,"type":"quantitative","scale":{"domain":[-8.0665,10.2821],"nice":false,"zero":false},"axis":null},"x2":{"datum":4.188},"y":{"datum":82.15,"type":"quantitative","scale":{"domain":[78,154.46],"nice":false,"zero":false},"axis":null}}},
{"data":{"values":[{}]},"mark":{"type":"rule","strokeWidth":1.5},"encoding":{"x":{"datum":8.693,"type":"quantitative","scale":{"domain":[-8.0665,10.2821],"nice":false,"zero":false},"axis":null},"x2":{"datum":9.693},"y":{"datum":84.6,"type":"quantitative","scale":{"domain":[78,154.46],"nice":false,"zero":false},"axis":null}}},
{"data":{"values":[{}]},"mark":{"type":"text","align":"left","baseline":"middle","text":"“threshold” current"},"encoding":{"x":{"datum":0,"type":"quantitative","scale":{"domain":[-8.0665,10.2821],"nice":false,"zero":false},"axis":null},"y":{"datum":103.58,"type":"quantitative","scale":{"domain":[78,154.46],"nice":false,"zero":false},"axis":null}}},
{"data":{"values":[{}]},"mark":{"type":"text","align":"left","baseline":"middle","text":"post-spike excitability"},"encoding":{"x":{"datum":0,"type":"quantitative","scale":{"domain":[-8.0665,10.2821],"nice":false,"zero":false},"axis":null},"y":{"datum":93.18,"type":"quantitative","scale":{"domain":[78,154.46],"nice":false,"zero":false},"axis":null}}},
{"data":{"values":[{}]},"mark":{"type":"text","align":"right","baseline":"middle","fontSize":15,"text":"100"},"encoding":{"x":{"datum":-0.52,"type":"quantitative","scale":{"domain":[-8.0665,10.2821],"nice":false,"zero":false},"axis":null},"y":{"datum":100,"type":"quantitative","scale":{"domain":[78,154.46],"nice":false,"zero":false},"axis":null}}},
{"data":{"values":[{}]},"mark":{"type":"text","align":"right","baseline":"middle","fontSize":15,"text":"90"},"encoding":{"x":{"datum":-0.56,"type":"quantitative","scale":{"domain":[-8.0665,10.2821],"nice":false,"zero":false},"axis":null},"y":{"datum":90,"type":"quantitative","scale":{"domain":[78,154.46],"nice":false,"zero":false},"axis":null}}},
{"data":{"values":[{}]},"mark":{"type":"text","align":"center","baseline":"middle","fontSize":15,"text":"%"},"encoding":{"x":{"datum":-0.92,"type":"quantitative","scale":{"domain":[-8.0665,10.2821],"nice":false,"zero":false},"axis":null},"y":{"datum":95.5,"type":"quantitative","scale":{"domain":[78,154.46],"nice":false,"zero":false},"axis":null}}},
{"data":{"values":[{}]},"mark":{"type":"text","align":"center","baseline":"middle","fontSize":15,"text":"nicotine 10 µM"},"encoding":{"x":{"datum":3.326,"type":"quantitative","scale":{"domain":[-8.0665,10.2821],"nice":false,"zero":false},"axis":null},"y":{"datum":79.5,"type":"quantitative","scale":{"domain":[78,154.46],"nice":false,"zero":false},"axis":null}}},
{"data":{"values":[{}]},"mark":{"type":"text","align":"center","baseline":"middle","fontSize":15,"text":"1 min"},"encoding":{"x":{"datum":9.18,"type":"quantitative","scale":{"domain":[-8.0665,10.2821],"nice":false,"zero":false},"axis":null},"y":{"datum":82.46,"type":"quantitative","scale":{"domain":[78,154.46],"nice":false,"zero":false},"axis":null}}}
]}
],
"resolve":{"scale":{"x":"independent","y":"independent"}}
}
